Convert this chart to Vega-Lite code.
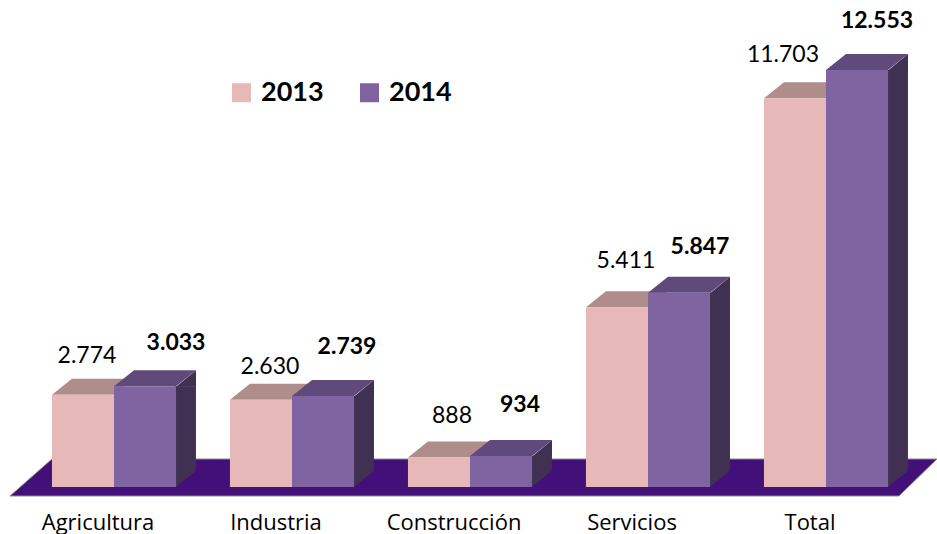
{
"$schema":"https://vega.github.io/schema/vega-lite/v6.json",
"width":937,"height":487,
"autosize":{"type":"none"},
"padding":{"left":0,"top":0,"right":0,"bottom":47},
"background":"white",
"config":{"view":{"stroke":null},"font":"Lato"},
"data":{"values":[
{"sector":"Agricultura","year":"2013","value":2774,"label":"2.774"},
{"sector":"Agricultura","year":"2014","value":3033,"label":"3.033"},
{"sector":"Industria","year":"2013","value":2630,"label":"2.630"},
{"sector":"Industria","year":"2014","value":2739,"label":"2.739"},
{"sector":"Construcción","year":"2013","value":888,"label":"888"},
{"sector":"Construcción","year":"2014","value":934,"label":"934"},
{"sector":"Servicios","year":"2013","value":5411,"label":"5.411"},
{"sector":"Servicios","year":"2014","value":5847,"label":"5.847"},
{"sector":"Total","year":"2013","value":11703,"label":"11.703"},
{"sector":"Total","year":"2014","value":12553,"label":"12.553"}
]},
"encoding":{
"x":{"field":"sector","type":"nominal","sort":null,"title":null,
"scale":{"domain":["Agricultura","Industria","Construcción","Servicios","Total"],"range":[25,915],"paddingInner":0.303,"paddingOuter":0.1515},
"axis":{"domain":false,"ticks":false,"labelAngle":0,"labelFontSize":22,"labelColor":"#000000","labelFont":"Open Sans","labelPadding":35,"labelBaseline":"middle","labelOffset":-16}},
"xOffset":{"field":"year","type":"nominal","scale":{"domain":["2013","2014"],"paddingInner":0,"paddingOuter":0}},
"y":{"field":"value","type":"quantitative","title":null,"scale":{"domain":[0,14660],"nice":false,"zero":true},"axis":null}
},
"layer":[
{"transform":[{"filter":"datum.sector==='Construcción' && datum.year==='2013'"}],
 "mark":{"type":"point","filled":true,"opacity":1,"size":4,"stroke":"#8a8a8a","strokeWidth":1,"fill":"#43107A","shape":"M-429,9 L460,9 L498,-28 L-387,-28 Z"},
 "encoding":{"y":{"datum":0}}},
{"transform":[{"filter":"datum.year==='2013'"}],
 "mark":{"type":"point","filled":true,"opacity":1,"size":4,"color":"#AE8D8A","shape":"M-31,0 L31,0 L51,-16 L-11,-16 Z"}},
{"transform":[{"filter":"datum.year==='2014'"}],
 "mark":{"type":"point","filled":true,"opacity":1,"size":4,"color":"#604A7B","shape":"M-31,0 L31,0 L51,-16 L-11,-16 Z"}},
{"transform":[{"filter":"datum.year==='2014'"}],
 "mark":{"type":"rule","color":"#403152","strokeWidth":21,"y2Offset":-16},
 "encoding":{"xOffset":{"value":133.5},"y2":{"datum":0}}},
{"transform":[{"filter":"datum.year==='2014'"}],
 "mark":{"type":"point","filled":true,"opacity":1,"size":4,"color":"#403152","shape":"M31,0.5 L51,-16 L51,0.5 Z"}},
{"transform":[{"filter":"datum.year==='2014'"}],
 "mark":{"type":"point","filled":true,"opacity":1,"size":4,"color":"#403152","shape":"M31,0 L51,-16.5 L31,-16.5 Z"},
 "encoding":{"y":{"datum":0}}},
{"mark":{"type":"bar"},
 "encoding":{
  "y2":{"datum":0},
  "color":{"field":"year","type":"nominal","title":null,
   "scale":{"domain":["2013","2014"],"range":["#E6B8B7","#8064A2"]},
   "legend":{"orient":"none","legendX":228,"legendY":79,"direction":"horizontal","columns":2,"symbolType":"square","symbolSize":361,"symbolStrokeWidth":0,"labelFontSize":27,"labelFontWeight":"bold","labelFont":"Lato","labelColor":"#000000","columnPadding":32,"labelOffset":6,"title":null}}}},
{"transform":[{"filter":"datum.label==='2.774'"}],"mark":{"type":"text","font":"Lato","fontSize":23,"color":"#000000","dx":4,"dy":-39},"encoding":{"text":{"field":"label"}}},
{"transform":[{"filter":"datum.label==='3.033'"}],"mark":{"type":"text","font":"Lato","fontSize":23,"fontWeight":"bold","color":"#000000","dx":31,"dy":-43},"encoding":{"text":{"field":"label"}}},
{"transform":[{"filter":"datum.label==='2.630'"}],"mark":{"type":"text","font":"Lato","fontSize":23,"color":"#000000","dx":9,"dy":-33},"encoding":{"text":{"field":"label"}}},
{"transform":[{"filter":"datum.label==='2.739'"}],"mark":{"type":"text","font":"Lato","fontSize":23,"fontWeight":"bold","color":"#000000","dx":24,"dy":-49},"encoding":{"text":{"field":"label"}}},
{"transform":[{"filter":"datum.label==='888'"}],"mark":{"type":"text","font":"Lato","fontSize":23,"color":"#000000","dx":13,"dy":-42},"encoding":{"text":{"field":"label"}}},
{"transform":[{"filter":"datum.label==='934'"}],"mark":{"type":"text","font":"Lato","fontSize":23,"fontWeight":"bold","color":"#000000","dx":19,"dy":-51},"encoding":{"text":{"field":"label"}}},
{"transform":[{"filter":"datum.label==='5.411'"}],"mark":{"type":"text","font":"Lato","fontSize":23,"color":"#000000","dx":9,"dy":-46},"encoding":{"text":{"field":"label"}}},
{"transform":[{"filter":"datum.label==='5.847'"}],"mark":{"type":"text","font":"Lato","fontSize":23,"fontWeight":"bold","color":"#000000","dx":21,"dy":-46},"encoding":{"text":{"field":"label"}}},
{"transform":[{"filter":"datum.label==='11.703'"}],"mark":{"type":"text","font":"Lato","fontSize":23,"color":"#000000","dx":-12,"dy":-43},"encoding":{"text":{"field":"label"}}},
{"transform":[{"filter":"datum.label==='12.553'"}],"mark":{"type":"text","font":"Lato","fontSize":23,"fontWeight":"bold","color":"#000000","dx":20,"dy":-49},"encoding":{"text":{"field":"label"}}}
]
}
